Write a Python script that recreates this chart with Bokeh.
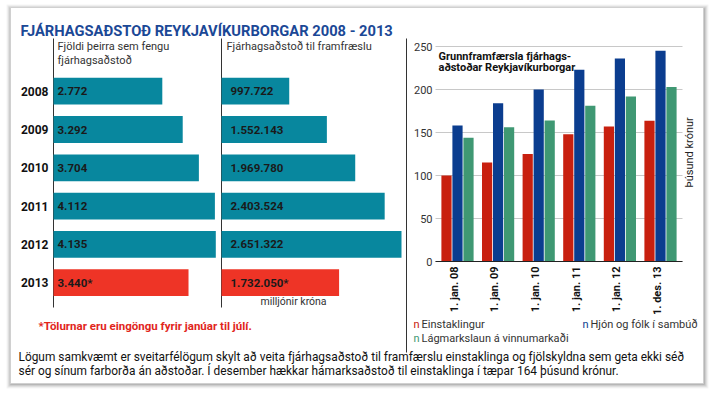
import numpy as np
from bokeh.plotting import figure
from bokeh.models import Range1d
from bokeh.core.properties import value
from bokeh.embed import file_html
from bokeh.resources import INLINE

# ---------------- data ----------------
years = ["2008", "2009", "2010", "2011", "2012", "2013"]
recipients = [2772, 3292, 3704, 4112, 4135, 3440]
recipient_labels = ["2.772", "3.292", "3.704", "4.112", "4.135", "3.440*"]
support = [997722, 1552143, 1969780, 2403524, 2651322, 1732050]
support_labels = ["997.722", "1.552.143", "1.969.780", "2.403.524", "2.651.322", "1.732.050*"]
partial_year = [False, False, False, False, False, True]

dates = ["1. jan. 08", "1. jan. 09", "1. jan. 10", "1. jan. 11", "1. jan. 12", "1. des. 13"]
einstaklingur = [100, 115, 125, 148, 157, 163.6]
hjon = [158, 184, 200, 223, 236, 245]
lagmark = [144, 156, 164, 181, 192, 203]
yticks = [0, 50, 100, 150, 200, 250]
series_names = ["Einstaklingur", "Hjón og fólk í sambúð", "Lágmarkslaun á vinnumarkaði"]

# ---------------- style ----------------
FONT = "Roboto"
TEAL = "#08879e"
RED_BAR = "#ee3426"
C_RED = "#c8200f"
C_BLUE = "#0b3d8f"
C_GREEN = "#3f9873"
TITLE_BLUE = "#1b4896"

W, H = 713, 396
X0, X1 = 0, W
YT, YB = 0, H

p = figure(width=W, height=H, x_range=Range1d(X0, X1), y_range=Range1d(YB, YT),
           x_axis_type=None, y_axis_type=None, output_backend="svg",
           toolbar_location=None, min_border=0)
p.outline_line_color = None
p.background_fill_color = "white"
p.border_fill_color = "white"
p.grid.visible = False


def lin_range(v0, p0, v1, p1, lo, hi):
    s = (p1 - p0) / (v1 - v0)
    return Range1d(v0 + (lo - p0) / s, v0 + (hi - p0) / s)


# panel ranges (pixel anchors -> library scales)
p.extra_x_ranges = {
    "lx": lin_range(0, 53, 4135, 215.3, X0, X1),
    "mx": lin_range(0, 221, 2651322, 401, X0, X1),
    "rx": lin_range(0, 457, 5, 660, X0, X1),
}
p.extra_y_ranges = {
    "ly": lin_range(0, 90.7, 5, 282.2, YB, YT),
    "ry": lin_range(0, 261, 250, 46, YB, YT),
}

# ---------------- card + shadow ----------------
for k, a in [(5, 0.04), (4, 0.05), (3, 0.07), (2, 0.09), (1, 0.12)]:
    p.quad(left=10 - k + 1, right=703 + k, top=7 - k + 2, bottom=383 + k,
           fill_color="#000000", fill_alpha=a, line_color=None)
p.quad(left=10, right=703, top=7, bottom=383, fill_color="white",
       line_color="#d0d0d0", line_width=1)

# ---------------- title ----------------
p.text(x=[20], y=[30], text=["FJÁRHAGSAÐSTOÐ REYKJAVÍKURBORGAR 2008 - 2013"],
       text_font=value(FONT), text_font_style="bold", text_font_size="14.7px",
       text_color=TITLE_BLUE, text_baseline="alphabetic", text_align="left")

# separators
p.segment(x0=[53, 221, 406], y0=[38, 38, 38], x1=[53, 221, 406], y1=[307, 307, 352],
          line_color="#333333", line_width=1)

# panel headers
p.text(x=[57, 57, 226], y=[46, 60, 46],
       text=["Fjöldi þeirra sem fengu", "fjárhagsaðstoð", "Fjárhagsaðstoð til framfræslu"],
       text_font=value(FONT), text_font_size="11px", text_color="#333333",
       text_baseline="middle", text_align="left")

idx = np.arange(len(years))
bar_colors = [RED_BAR if f else TEAL for f in partial_year]

# left panel bars
p.hbar(y=idx, left=0, right=recipients, height=0.70, fill_color=bar_colors,
       line_color=None, x_range_name="lx", y_range_name="ly")
# middle panel bars
p.hbar(y=idx, left=0, right=support, height=0.70, fill_color=bar_colors,
       line_color=None, x_range_name="mx", y_range_name="ly")

# year labels
p.text(x=[48] * len(years), y=idx, text=years, y_range_name="ly",
       text_font=value(FONT), text_font_style="bold", text_font_size="12px",
       text_color="#111111", text_baseline="middle", text_align="right")
# value labels
p.text(x=[57] * len(years), y=idx, text=recipient_labels, y_range_name="ly",
       text_font=value(FONT), text_font_style="bold", text_font_size="11.5px",
       text_color="#1a1a1a", text_baseline="middle", text_align="left")
p.text(x=[230] * len(years), y=idx, text=support_labels, y_range_name="ly",
       text_font=value(FONT), text_font_style="bold", text_font_size="11.5px",
       text_color="#1a1a1a", text_baseline="middle", text_align="left")

p.text(x=[293], y=[301], text=["milljónir króna"], text_font=value(FONT),
       text_font_size="10.5px", text_color="#333333", text_baseline="middle", text_align="center")
p.text(x=[38], y=[325], text=["*Tölurnar eru eingöngu fyrir janúar til júlí."],
       text_font=value(FONT), text_font_style="bold", text_font_size="11.5px",
       text_color="#e1251b", text_baseline="middle", text_align="left")

# ---------------- right chart ----------------
gidx = np.arange(len(dates))
off = 11 / 40.6
bw = 10.2 / 40.6

p.segment(x0=[435] * len(yticks), x1=[682] * len(yticks), y0=yticks, y1=yticks,
          y_range_name="ry", line_color="#c8c8c8", line_width=1)

for vals, col, o in [(einstaklingur, C_RED, -off), (hjon, C_BLUE, 0), (lagmark, C_GREEN, off)]:
    p.vbar(x=gidx + o, top=vals, bottom=0, width=bw, fill_color=col, line_color=None,
           x_range_name="rx", y_range_name="ry")

p.segment(x0=[435], x1=[682], y0=[0], y1=[0], y_range_name="ry",
          line_color="#222222", line_width=1)

p.text(x=[432] * len(yticks), y=yticks, text=[str(t) for t in yticks], y_range_name="ry",
       text_font=value(FONT), text_font_size="11px", text_color="#333333",
       text_baseline="middle", text_align="right")

p.text(x=gidx - 0.08, y=[266] * len(dates), text=dates, x_range_name="rx",
       angle=np.pi / 2, text_font=value(FONT), text_font_style="bold", text_font_size="11px",
       text_color="#111111", text_baseline="middle", text_align="right")

p.text(x=[438, 438], y=[55.5, 67],
       text=["Grunnframfærsla fjárhags-", "aðstoðar Reykjavíkurborgar"],
       text_font=value(FONT), text_font_style="bold", text_font_size="11px",
       text_color="#111111", text_baseline="middle", text_align="left")

p.text(x=[689], y=[152], text=["Þúsund krónur"], angle=np.pi / 2,
       text_font=value(FONT), text_font_size="11px", text_color="#222222",
       text_baseline="middle", text_align="center")

# legend
lx = [413, 582, 413]
ly = [324, 324, 338]
p.text(x=lx, y=ly, text=["n", "n", "n"], text_font=value(FONT), text_font_size="11px",
       text_color=[C_RED, C_BLUE, C_GREEN], text_baseline="middle", text_align="left")
p.text(x=[v + 8 for v in lx], y=ly, text=series_names, text_font=value(FONT),
       text_font_size="11px", text_color="#333333", text_baseline="middle", text_align="left")

# ---------------- bottom note ----------------
p.text(x=[18, 18], y=[356, 370],
       text=["Lögum samkvæmt er sveitarfélögum skylt að veita fjárhagsaðstoð til framfærslu einstaklinga og fjölskyldna sem geta ekki séð",
             "sér og sínum farborða án aðstoðar. Í desember hækkar hámarksaðstoð til einstaklinga í tæpar 164 þúsund krónur."],
       text_font=value(FONT), text_font_size="11.9px", text_color="#111111",
       text_baseline="middle", text_align="left")

open("out.html", "w").write(file_html(p, INLINE))
